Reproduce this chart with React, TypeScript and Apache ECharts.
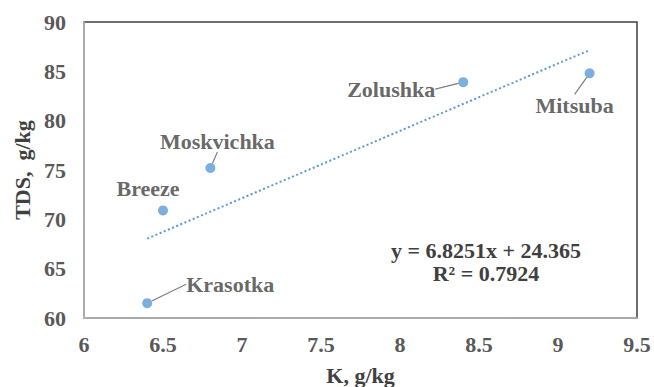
import React, { useEffect, useRef } from "react";
import * as echarts from "echarts";

const cultivars = ["Krasotka", "Breeze", "Moskvichka", "Zolushka", "Mitsuba"];
const kValues = [6.4, 6.5, 6.8, 8.4, 9.2];
const tdsValues = [61.5, 70.9, 75.2, 83.9, 84.8];
const trendSlope = 6.8251;
const trendIntercept = 24.365;
const rSquared = 0.7924;

// label offsets (label centre relative to the point), and leader-line flags
const labelOffsets: Record<string, [number, number, boolean]> = {
  Krasotka: [83, -19, true],
  Breeze: [-15, -22, false],
  Moskvichka: [7, -27, true],
  Zolushka: [-72, 7, true],
  Mitsuba: [-15, 32, true],
};

const FONT = "Liberation Serif";
const FS = 22;

export default function App() {
  const ref = useRef<HTMLDivElement>(null);
  useEffect(() => {
    if (!ref.current) return;
    const chart = echarts.init(ref.current, undefined, { renderer: "svg" });
    const xMin = Math.min(...kValues);
    const xMax = Math.max(...kValues);
    const trend = [
      [xMin, trendSlope * xMin + trendIntercept],
      [xMax, trendSlope * xMax + trendIntercept],
    ];
    chart.setOption({
      animation: false,
      backgroundColor: "#ffffff",
      grid: {
        left: 84,
        top: 22,
        right: 17,
        bottom: 69,
        outerBoundsMode: "none",
        containLabel: false,
        show: true,
        borderColor: "#404040",
        borderWidth: 1.5,
        backgroundColor: "#ffffff",
      },
      xAxis: {
        type: "value",
        min: 6,
        max: 9.5,
        interval: 0.5,
        name: "K, g/kg",
        nameLocation: "middle",
        nameGap: 46,
        nameTextStyle: { fontFamily: FONT, fontWeight: "bold", fontSize: FS, color: "#404040" },
        axisLine: { show: true, lineStyle: { color: "#bfbfbf", width: 1.5 } },
        axisTick: { show: false },
        splitLine: { show: false },
        axisLabel: {
          margin: 15,
          fontFamily: FONT,
          fontWeight: "bold",
          fontSize: FS,
          color: "#595959",
        },
      },
      yAxis: {
        type: "value",
        min: 60,
        max: 90,
        interval: 5,
        name: "TDS,  g/kg",
        nameLocation: "middle",
        nameGap: 50,
        nameTextStyle: { fontFamily: FONT, fontWeight: "bold", fontSize: FS, color: "#404040" },
        axisLine: { show: true, lineStyle: { color: "#bfbfbf", width: 1.5 } },
        axisTick: { show: false },
        splitLine: { show: false },
        axisLabel: {
          margin: 18,
          fontFamily: FONT,
          fontWeight: "bold",
          fontSize: FS,
          color: "#595959",
        },
      },
      series: [
        {
          type: "line",
          data: trend,
          symbol: "none",
          lineStyle: { color: "#5b9bd5", width: 2, type: [2, 2.5] },
          z: 1,
          silent: true,
        },
        {
          type: "scatter",
          symbolSize: 10,
          itemStyle: { color: "#5b9bd5" },
          z: 3,
          data: cultivars.map((name, i) => ({
            name,
            value: [kValues[i], tdsValues[i]],
            labelLine: { show: labelOffsets[name][2] },
          })),
          label: {
            show: true,
            position: "inside",
            formatter: "{b}",
            fontFamily: FONT,
            fontWeight: "bold",
            fontSize: FS,
            color: "#404040",
          },
          labelLine: {
            show: true,
            lineStyle: { color: "#7f7f7f", width: 1.2 },
          },
          labelLayout: (params: any) => {
            const name = cultivars[params.dataIndex];
            const off = labelOffsets[name];
            return { dx: off[0], dy: off[1] };
          },
        },
      ],
      graphic: [
        {
          type: "text",
          x: 486,
          y: 239,
          style: {
            text: `y = ${trendSlope}x + ${trendIntercept}\nR² = ${rSquared}`,
            fontFamily: FONT,
            fontWeight: "bold",
            fontSize: FS,
            lineHeight: 23,
            fill: "#404040",
            align: "center",
            verticalAlign: "top",
          },
        },
      ],
    });
    return () => chart.dispose();
  }, []);
  return (
    <div
      ref={ref}
      style={{ position: "fixed", left: 0, top: 0, width: 654, height: 387 }}
    />
  );
}
